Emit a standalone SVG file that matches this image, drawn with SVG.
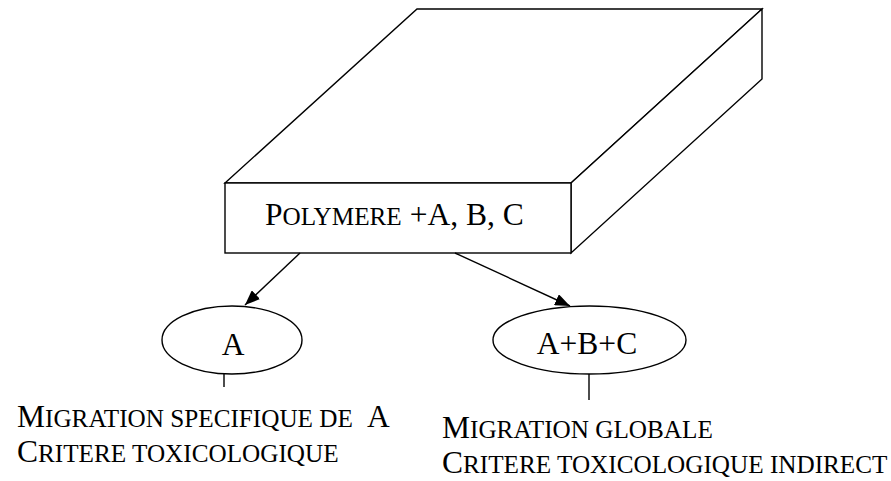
<svg xmlns="http://www.w3.org/2000/svg" width="891" height="481" viewBox="0 0 891 481">
<defs>
<style>
.ln{fill:none;stroke:#000;stroke-width:1.4;stroke-linejoin:miter}
.sh{fill:#fff;stroke:#000;stroke-width:1.4;stroke-linejoin:miter}
.t{font-family:"Liberation Serif","Times New Roman",serif;font-size:31.5px;fill:#000;white-space:pre}
.sc{font-size:25.2px}
</style>
<marker id="ah" viewBox="0 0 15 12" refX="15" refY="6" markerWidth="15" markerHeight="12" markerUnits="userSpaceOnUse" orient="auto">
<path d="M0,0 L15,6 L0,12 Z" fill="#000"/>
</marker>
</defs>
<rect width="891" height="481" fill="#fff"/>
<g id="block">
<polygon class="sh" points="225,183 417,9 762,9 571,183"/>
<polygon class="sh" points="571,183 762,9 762,79 571,253"/>
<rect class="sh" x="225" y="183" width="346" height="70"/>
<text class="t" x="265" y="225">P<tspan class="sc">OLYMERE</tspan> +A, B, C</text>
</g>
<g id="nodeA">
<ellipse class="sh" cx="232" cy="340" rx="70" ry="34"/>
<text class="t" x="233" y="355" text-anchor="middle">A</text>
</g>
<g id="nodeABC">
<ellipse class="sh" cx="589.5" cy="340" rx="96.5" ry="34"/>
<text class="t" x="587" y="354" text-anchor="middle">A+B+C</text>
</g>
<g id="connectors">
<line class="ln" x1="300" y1="253" x2="245" y2="305" marker-end="url(#ah)"/>
<line class="ln" x1="455" y1="253" x2="570" y2="306" marker-end="url(#ah)"/>
<line class="ln" x1="224" y1="374" x2="224" y2="387"/>
<line class="ln" x1="589" y1="374" x2="589" y2="400"/>
</g>
<g id="labelA">
<text class="t" x="17" y="427">M<tspan class="sc">IGRATION SPECIFIQUE DE</tspan>  A</text>
<text class="t" x="17" y="462">C<tspan class="sc">RITERE TOXICOLOGIQUE</tspan></text>
</g>
<g id="labelABC">
<text class="t" x="442" y="438">M<tspan class="sc">IGRATION GLOBALE</tspan></text>
<text class="t" x="442" y="473">C<tspan class="sc">RITERE TOXICOLOGIQUE INDIRECT</tspan></text>
</g>
</svg>
